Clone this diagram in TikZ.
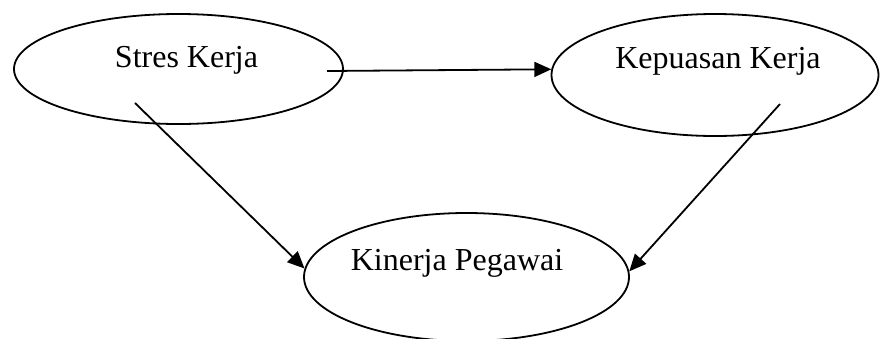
\documentclass[tikz,border=0pt]{standalone}
\usepackage{fontspec}
\setmainfont{Liberation Serif}
\usetikzlibrary{shapes.geometric,arrows.meta}
\begin{document}
\begin{tikzpicture}[x=1pt,y=-1pt,
  varbox/.style={ellipse, draw, line width=1.8pt, inner sep=0pt},
  vartext/.style={font=\fontsize{32}{36}\selectfont, inner sep=0pt, anchor=base},
  link/.style={line width=1.8pt, -{Triangle[length=17pt,width=15pt]}}]
  \useasboundingbox (0,0) rectangle (880,338);

  % variables
  \node[varbox, minimum width=329pt, minimum height=110pt] (sk) at (178.5,69) {};
  \node[vartext] (skt) at (186.5,67) {Stres Kerja};

  \node[varbox, minimum width=327pt, minimum height=122pt] (kk) at (715,75) {};
  \node[vartext] (kkt) at (718,68) {Kepuasan Kerja};

  \node[varbox, minimum width=325pt, minimum height=128pt] (kp) at (466.5,277) {};
  \node[vartext] (kpt) at (457,270) {Kinerja Pegawai};

  % connector starts inside the source ellipses
  \coordinate (s1) at (327,71);
  \coordinate (s2) at (135,103);
  \coordinate (s3) at (780,104);

  \draw[link] (s1) -- (kk.178.3);
  \draw[link] (s2) -- (kp.177.2);
  \draw[link] (s3) -- (kp.2.5);
\end{tikzpicture}
\end{document}
